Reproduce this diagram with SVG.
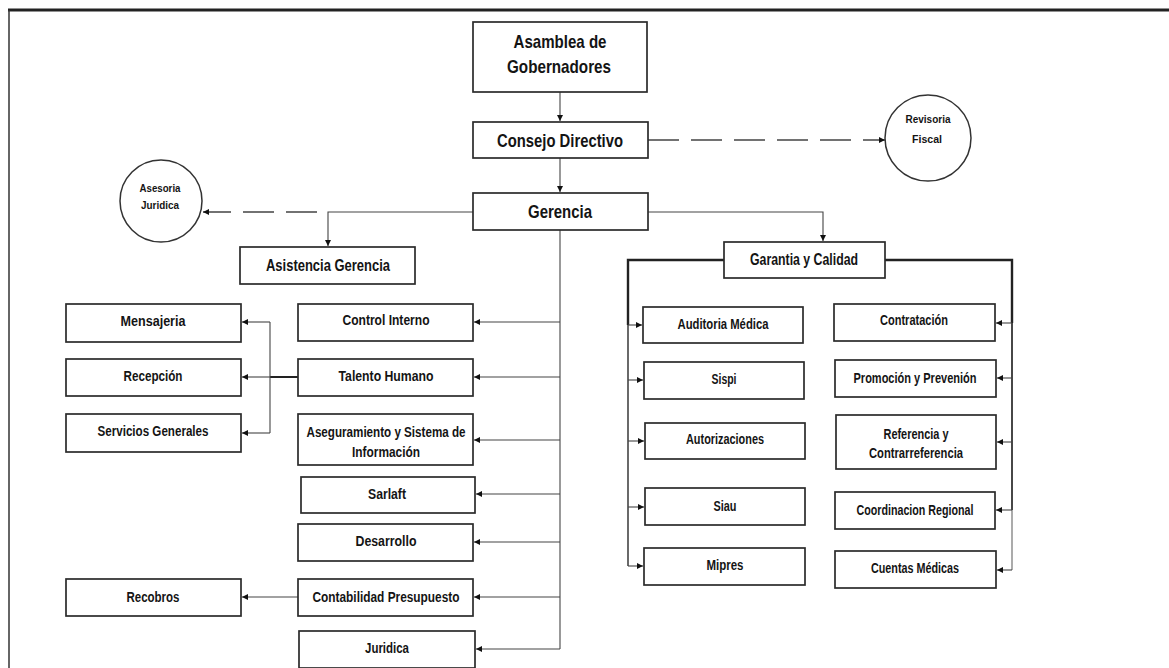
<svg xmlns="http://www.w3.org/2000/svg" width="1169" height="668" viewBox="0 0 1169 668">
<style>
.box{fill:#fff;stroke:#2b2b2b;stroke-width:1.7}
.t{font-family:"Liberation Sans",Arial,sans-serif;font-weight:bold;fill:#141414;text-anchor:middle}
.big{font-size:18.5px}
.mid{font-size:16px}
.sm{font-size:14px}
.xs{font-size:11px}
.c{fill:none;stroke:#444;stroke-width:1.1}
.thick{fill:none;stroke:#222;stroke-width:2.4}
.dash{fill:none;stroke:#444;stroke-width:1.3;stroke-dasharray:31 12}
</style>
<defs>
<marker id="ah" markerWidth="6" markerHeight="6" refX="6" refY="3" orient="auto" markerUnits="userSpaceOnUse">
<path d="M0,0 L6,3 L0,6 z" fill="#111"/>
</marker>
</defs>
<rect x="0" y="0" width="1169" height="668" fill="#fff"/>
<g id="frame">
<line x1="8" y1="10" x2="1169" y2="10" stroke="#222" stroke-width="3"/>
<line x1="9" y1="10" x2="9" y2="668" stroke="#333" stroke-width="1.5"/>
</g>
<g id="connectors">
<line class="c" x1="560" y1="92" x2="560" y2="121" marker-end="url(#ah)"/>
<line class="c" x1="560" y1="158" x2="560" y2="192" marker-end="url(#ah)"/>
<line class="dash" x1="648" y1="140" x2="885" y2="140" marker-end="url(#ah)"/>
<polyline class="c" points="473,212 328,212 328,246" marker-end="url(#ah)"/>
<line class="dash" x1="317" y1="212" x2="203" y2="212" marker-end="url(#ah)"/>
<polyline class="c" points="648,212 823,212 823,241" marker-end="url(#ah)"/>
<line class="c" x1="560" y1="230" x2="560" y2="649"/>
<line class="c" x1="560" y1="322" x2="474" y2="322" marker-end="url(#ah)"/>
<line class="c" x1="560" y1="377" x2="474" y2="377" marker-end="url(#ah)"/>
<line class="c" x1="560" y1="440" x2="474" y2="440" marker-end="url(#ah)"/>
<line class="c" x1="560" y1="494" x2="476" y2="494" marker-end="url(#ah)"/>
<line class="c" x1="560" y1="542" x2="474" y2="542" marker-end="url(#ah)"/>
<line class="c" x1="560" y1="597" x2="474" y2="597" marker-end="url(#ah)"/>
<line class="c" x1="560" y1="649" x2="476" y2="649" marker-end="url(#ah)"/>
<line x1="298" y1="377" x2="270" y2="377" stroke="#222" stroke-width="2"/>
<line class="c" x1="270" y1="322" x2="270" y2="433"/>
<line class="c" x1="270" y1="322" x2="242" y2="322" marker-end="url(#ah)"/>
<line class="c" x1="270" y1="377" x2="242" y2="377" marker-end="url(#ah)"/>
<line class="c" x1="270" y1="433" x2="242" y2="433" marker-end="url(#ah)"/>
<line class="c" x1="298" y1="597" x2="242" y2="597" marker-end="url(#ah)"/>
<polyline class="thick" points="724,260 628,260 628,325"/>
<line x1="628" y1="325" x2="628" y2="566" stroke="#444" stroke-width="1.6"/>
<line class="c" x1="628" y1="325" x2="642" y2="325" marker-end="url(#ah)"/>
<line class="c" x1="628" y1="380" x2="643" y2="380" marker-end="url(#ah)"/>
<line class="c" x1="628" y1="441" x2="644" y2="441" marker-end="url(#ah)"/>
<line class="c" x1="628" y1="507" x2="644" y2="507" marker-end="url(#ah)"/>
<line class="c" x1="628" y1="566" x2="643" y2="566" marker-end="url(#ah)"/>
<polyline class="thick" points="885,260 1012,260 1012,323"/>
<line x1="1012" y1="323" x2="1012" y2="510" stroke="#333" stroke-width="1.8"/>
<line x1="1012" y1="510" x2="1012" y2="570" stroke="#666" stroke-width="1.1"/>
<line class="c" x1="1012" y1="323" x2="996" y2="323" marker-end="url(#ah)"/>
<line class="c" x1="1012" y1="378" x2="997" y2="378" marker-end="url(#ah)"/>
<line class="c" x1="1012" y1="442" x2="997" y2="442" marker-end="url(#ah)"/>
<line class="c" x1="1012" y1="510" x2="996" y2="510" marker-end="url(#ah)"/>
<line class="c" x1="1012" y1="570" x2="997" y2="570" marker-end="url(#ah)"/>
</g>
<g id="asamblea"><rect class="box" x="473" y="22" width="174" height="70"/>
<text class="t big" x="560" y="48" textLength="93" lengthAdjust="spacingAndGlyphs">Asamblea de</text>
<text class="t big" x="559" y="73" textLength="104" lengthAdjust="spacingAndGlyphs">Gobernadores</text></g>
<g id="consejo"><rect class="box" x="473" y="122" width="175" height="36"/>
<text class="t big" x="560" y="147" textLength="126" lengthAdjust="spacingAndGlyphs">Consejo Directivo</text></g>
<g id="gerencia"><rect class="box" x="473" y="193" width="175" height="37"/>
<text class="t big" x="560" y="218" textLength="64" lengthAdjust="spacingAndGlyphs">Gerencia</text></g>
<g id="revisoria"><circle cx="928" cy="138" r="43" fill="#fff" stroke="#333" stroke-width="1.5"/>
<text class="t xs" x="928" y="123" textLength="45" lengthAdjust="spacingAndGlyphs">Revisoria</text>
<text class="t xs" x="927" y="143" textLength="30" lengthAdjust="spacingAndGlyphs">Fiscal</text></g>
<g id="asesoria"><circle cx="161" cy="201" r="41" fill="#fff" stroke="#333" stroke-width="1.5"/>
<text class="t xs" x="160" y="192" textLength="41" lengthAdjust="spacingAndGlyphs">Asesoria</text>
<text class="t xs" x="160" y="209" textLength="38" lengthAdjust="spacingAndGlyphs">Juridica</text></g>
<g id="asistencia"><rect class="box" x="240" y="247" width="175" height="37"/>
<text class="t mid" x="328" y="271" textLength="124" lengthAdjust="spacingAndGlyphs">Asistencia Gerencia</text></g>
<g id="garantia"><rect class="box" x="724" y="242" width="161" height="36"/>
<text class="t mid" x="804" y="265" textLength="108" lengthAdjust="spacingAndGlyphs">Garantia  y  Calidad</text></g>
<g id="mensajeria"><rect class="box" x="66" y="304" width="175" height="38"/>
<text class="t sm" x="153" y="326" textLength="65" lengthAdjust="spacingAndGlyphs">Mensajeria</text></g>
<g id="recepcion"><rect class="box" x="66" y="359" width="175" height="37"/>
<text class="t sm" x="153" y="381" textLength="59" lengthAdjust="spacingAndGlyphs">Recepción</text></g>
<g id="servicios"><rect class="box" x="66" y="414" width="175" height="38"/>
<text class="t sm" x="153" y="436" textLength="111" lengthAdjust="spacingAndGlyphs">Servicios Generales</text></g>
<g id="control"><rect class="box" x="298" y="304" width="175" height="37"/>
<text class="t sm" x="386" y="325" textLength="87" lengthAdjust="spacingAndGlyphs">Control Interno</text></g>
<g id="talento"><rect class="box" x="298" y="359" width="175" height="37"/>
<text class="t sm" x="386" y="381" textLength="95" lengthAdjust="spacingAndGlyphs">Talento Humano</text></g>
<g id="aseguramiento"><rect class="box" x="298" y="414" width="175" height="51"/>
<text class="t sm" x="386" y="437" textLength="159" lengthAdjust="spacingAndGlyphs">Aseguramiento y Sistema de</text>
<text class="t sm" x="386" y="457" textLength="68" lengthAdjust="spacingAndGlyphs">Información</text></g>
<g id="sarlaft"><rect class="box" x="301" y="477" width="174" height="36"/>
<text class="t sm" x="387" y="499" textLength="38" lengthAdjust="spacingAndGlyphs">Sarlaft</text></g>
<g id="desarrollo"><rect class="box" x="298" y="524" width="175" height="37"/>
<text class="t sm" x="386" y="546" textLength="61" lengthAdjust="spacingAndGlyphs">Desarrollo</text></g>
<g id="contabilidad"><rect class="box" x="298" y="579" width="175" height="37"/>
<text class="t sm" x="386" y="602" textLength="147" lengthAdjust="spacingAndGlyphs">Contabilidad Presupuesto</text></g>
<g id="recobros"><rect class="box" x="66" y="579" width="175" height="37"/>
<text class="t sm" x="153" y="602" textLength="53" lengthAdjust="spacingAndGlyphs">Recobros</text></g>
<g id="juridica"><rect class="box" x="299" y="631" width="176" height="37"/>
<text class="t sm" x="387" y="653" textLength="44" lengthAdjust="spacingAndGlyphs">Juridica</text></g>
<g id="auditoria"><rect class="box" x="643" y="307" width="160" height="36"/>
<text class="t sm" x="723" y="329" textLength="91" lengthAdjust="spacingAndGlyphs">Auditoria Médica</text></g>
<g id="sispi"><rect class="box" x="644" y="362" width="160" height="37"/>
<text class="t sm" x="724" y="384" textLength="25" lengthAdjust="spacingAndGlyphs">Sispi</text></g>
<g id="autorizaciones"><rect class="box" x="645" y="423" width="160" height="36"/>
<text class="t sm" x="725" y="444" textLength="78" lengthAdjust="spacingAndGlyphs">Autorizaciones</text></g>
<g id="siau"><rect class="box" x="645" y="488" width="160" height="37"/>
<text class="t sm" x="725" y="511" textLength="23" lengthAdjust="spacingAndGlyphs">Siau</text></g>
<g id="mipres"><rect class="box" x="644" y="548" width="161" height="37"/>
<text class="t sm" x="725" y="570" textLength="37" lengthAdjust="spacingAndGlyphs">Mipres</text></g>
<g id="contratacion"><rect class="box" x="834" y="304" width="161" height="37"/>
<text class="t sm" x="914" y="325" textLength="68" lengthAdjust="spacingAndGlyphs">Contratación</text></g>
<g id="promocion"><rect class="box" x="835" y="360" width="161" height="37"/>
<text class="t sm" x="915" y="383" textLength="123" lengthAdjust="spacingAndGlyphs">Promoción y Prevenión</text></g>
<g id="referencia"><rect class="box" x="836" y="415" width="160" height="54"/>
<text class="t sm" x="916" y="439" textLength="65" lengthAdjust="spacingAndGlyphs">Referencia y</text>
<text class="t sm" x="916" y="458" textLength="94" lengthAdjust="spacingAndGlyphs">Contrarreferencia</text></g>
<g id="coordinacion"><rect class="box" x="835" y="492" width="160" height="37"/>
<text class="t sm" x="915" y="515" textLength="117" lengthAdjust="spacingAndGlyphs">Coordinacion Regional</text></g>
<g id="cuentas"><rect class="box" x="835" y="551" width="161" height="37"/>
<text class="t sm" x="915" y="573" textLength="88" lengthAdjust="spacingAndGlyphs">Cuentas Médicas</text></g>
</svg>
